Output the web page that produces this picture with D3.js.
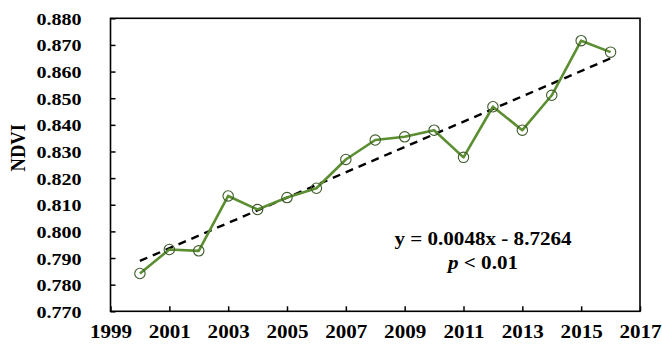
<!DOCTYPE html>
<html>
<head>
<meta charset="utf-8">
<script src="https://cdn.jsdelivr.net/npm/d3@7"></script>
<style>
  html, body { margin: 0; padding: 0; background: #fff; }
  svg { display: block; }
  text { font-family: "Liberation Serif", "Times New Roman", serif; font-weight: bold; fill: #000; }
</style>
</head>
<body>
<svg id="chart" width="662" height="348"></svg>
<script>
// Annual mean NDVI, 2000–2016
const years = [2000, 2001, 2002, 2003, 2004, 2005, 2006, 2007, 2008,
               2009, 2010, 2011, 2012, 2013, 2014, 2015, 2016];
const ndvi = [0.7842, 0.7932, 0.7927, 0.8133, 0.8082, 0.8127, 0.8162, 0.8270, 0.8343,
              0.8355, 0.8380, 0.8278, 0.8468, 0.8380, 0.8511, 0.8716, 0.8673];

const xTicks = [1999, 2001, 2003, 2005, 2007, 2009, 2011, 2013, 2015, 2017];
const yTicks = [0.770, 0.780, 0.790, 0.800, 0.810, 0.820, 0.830, 0.840, 0.850, 0.860, 0.870, 0.880];
const equationText = "y = 0.0048x - 8.7264";

const svg = d3.select("#chart");
const plotLeft = 110.5, plotRight = 640, plotTop = 18.3, plotBottom = 311.3;
const stretch = 1.14; // glyphs are drawn slightly wide

const x = d3.scaleLinear().domain([1999, 2017]).range([plotLeft, plotRight]);
const y = d3.scaleLinear().domain([0.770, 0.880]).range([plotBottom, plotTop]);

// Least-squares trend of the series
const n = years.length;
const mx = d3.mean(years), my = d3.mean(ndvi);
const slope = d3.sum(years, (t, i) => (t - mx) * (ndvi[i] - my)) / d3.sum(years, t => (t - mx) ** 2);
const icpt = my - slope * mx;
const trendYears = [years[0], years[n - 1]];

// Axes with inward ticks
const yAxis = d3.axisLeft(y).tickValues(yTicks).tickSize(-5).tickPadding(0).tickFormat(d3.format(".3f"));
const xAxis = d3.axisBottom(x).tickValues(xTicks).tickSize(-5).tickPadding(0).tickFormat(d3.format("d"));

const gy = svg.append("g").attr("transform", `translate(${plotLeft},0)`).call(yAxis);
gy.select(".domain").remove();
gy.selectAll(".tick line").attr("stroke", "#000").attr("stroke-width", 1.5);
gy.selectAll(".tick text")
  .attr("x", null).attr("dy", "0.34em")
  .attr("font-size", 17.6).attr("font-family", null)
  .attr("transform", `translate(-29,0) scale(${stretch},1)`)
  .attr("text-anchor", "end");

const gx = svg.append("g").attr("transform", `translate(0,${plotBottom})`).call(xAxis);
gx.select(".domain").remove();
gx.selectAll(".tick line").attr("stroke", "#000").attr("stroke-width", 1.5);
gx.selectAll(".tick text")
  .attr("y", null).attr("dy", null)
  .attr("font-size", 18.5).attr("font-family", null)
  .attr("transform", `translate(0,27) scale(${stretch},1)`)
  .attr("text-anchor", "middle");

// Plot frame
svg.append("rect")
  .attr("x", plotLeft).attr("y", plotTop)
  .attr("width", plotRight - plotLeft).attr("height", plotBottom - plotTop)
  .attr("fill", "none").attr("stroke", "#000").attr("stroke-width", 1.6);

// Y axis title
svg.append("text")
  .attr("transform", `translate(25,${(plotTop + plotBottom) / 2 - 17}) rotate(-90) scale(1,${stretch})`)
  .attr("text-anchor", "middle")
  .attr("font-size", 18.5)
  .text("NDVI");

// Trend line
svg.append("line")
  .attr("x1", x(trendYears[0])).attr("y1", y(slope * trendYears[0] + icpt))
  .attr("x2", x(trendYears[1])).attr("y2", y(slope * trendYears[1] + icpt))
  .attr("stroke", "#000").attr("stroke-width", 2.4)
  .attr("stroke-dasharray", "8,6");

// NDVI series
const line = d3.line().x((d, i) => x(years[i])).y(d => y(d));
svg.append("path")
  .datum(ndvi)
  .attr("d", line)
  .attr("fill", "none")
  .attr("stroke", "#5b8e31")
  .attr("stroke-width", 2.6)
  .attr("stroke-linejoin", "round");

svg.append("g").selectAll("circle")
  .data(ndvi)
  .join("circle")
  .attr("cx", (d, i) => x(years[i]))
  .attr("cy", d => y(d))
  .attr("r", 5.2)
  .attr("fill", "none")
  .attr("stroke", "#3e5a2c")
  .attr("stroke-width", 1.1);

// Regression annotation
const ann = svg.append("g").attr("transform", `translate(483,0)`);
ann.append("text")
  .attr("transform", `translate(0,245) scale(${stretch},1)`)
  .attr("text-anchor", "middle")
  .attr("font-size", 18.5)
  .text(equationText);
const pText = ann.append("text")
  .attr("transform", `translate(0,269) scale(${stretch},1)`)
  .attr("text-anchor", "middle")
  .attr("font-size", 18.5);
pText.append("tspan").attr("font-style", "italic").text("p");
pText.append("tspan").text(" < 0.01");
</script>
</body>
</html>
